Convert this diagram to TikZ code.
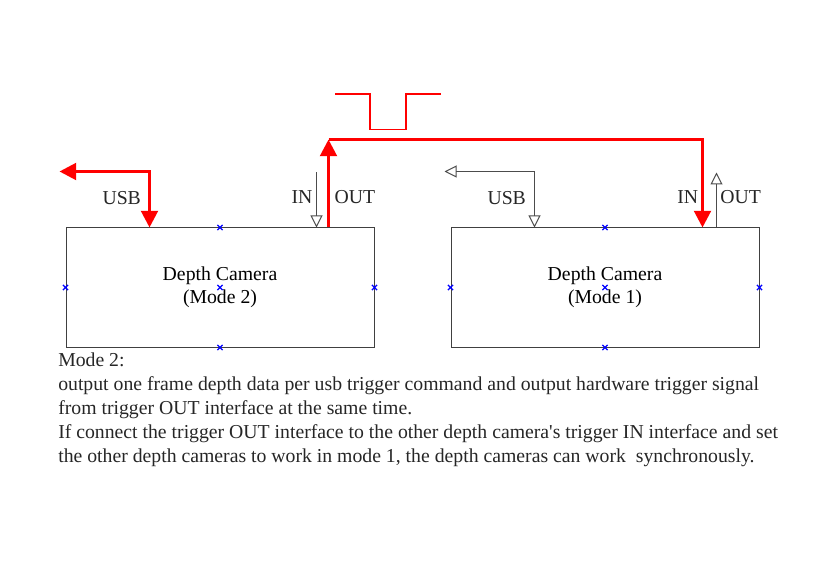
\documentclass[tikz,border=0pt]{standalone}
\usepackage{fontspec}
\setmainfont{Liberation Serif}[Ligatures=TeXOff]
\usetikzlibrary{positioning}
\usetikzlibrary{arrows.meta}
\usetikzlibrary{shapes.misc}

\begin{document}
\begin{tikzpicture}
          [
          x=0.75pt, y=-0.75pt,
          font=\fontsize{14.8}{17.5}\selectfont,
          Camera/.style={rectangle, draw=black!75, line width=0.75pt, minimum width=231pt, minimum height=89.25pt, align=center, inner sep=0pt},
          Handle/.style={cross out, draw=blue, line width=0.9pt, minimum size=3pt, inner sep=0pt},
          Signal/.style={draw=red, line width=2.25pt, -{Triangle[width=12.5pt, length=12.5pt]}},
          Plain/.style={draw=black!70, line width=0.75pt, -{Triangle[open, width=9pt, length=9pt]}},
          Label/.style={text=black!85, inner sep=0pt},
          Note/.style={text=black!85, anchor=base west, inner sep=0pt},
          ]
          \useasboundingbox (0,0) rectangle (836,588);

          % Nodes
          \node[Camera] (CamL) at (220,287.5) {Depth Camera\\(Mode 2)};
          \node[Camera] (CamR) at (605,287.5) {Depth Camera\\(Mode 1)};

          \foreach \a in {north, south, east, west, center}
          {
            \node[Handle] (hL\a) at (CamL.\a) {};
            \node[Handle] (hR\a) at (CamR.\a) {};
          }

          % Ports
          \coordinate (UsbL) at ([xshift=63pt]CamL.north west);
          \coordinate (InL) at ([xshift=188.25pt]CamL.north west);
          \coordinate (OutL) at ([xshift=197.25pt]CamL.north west);
          \coordinate (UsbR) at ([xshift=63pt]CamR.north west);
          \coordinate (InR) at ([xshift=189pt]CamR.north west);
          \coordinate (OutR) at ([xshift=199.5pt]CamR.north west);

          \coordinate (UsbLend) at ([xshift=-67.5pt, yshift=42pt]UsbL);
          \coordinate (UsbRend) at ([xshift=-67.5pt, yshift=42pt]UsbR);
          \coordinate (InLend) at ([yshift=41.25pt]InL);
          \coordinate (OutRend) at ([yshift=41.25pt]OutR);
          \coordinate (Bend) at ([yshift=66pt]OutL);

          % Labels
          \node[Label] (UsbLtext) at (121.7,198) {USB};
          \node[Label] (InLtext) at (302,197) {IN};
          \node[Label] (OutLtext) at (355,197) {OUT};
          \node[Label] (UsbRtext) at (506.7,198) {USB};
          \node[Label] (InRtext) at (687.7,197) {IN};
          \node[Label] (OutRtext) at (740.7,197) {OUT};

          % Lines
          \path [Plain] (InLend) -- (InL);
          \path [Plain, {Triangle[open, width=9pt, length=9pt]}-{Triangle[open, width=9pt, length=9pt]}] (UsbRend) -| (UsbR);
          \path [Plain] (OutR) -- (OutRend);
          \path [Signal, {Triangle[width=12.5pt, length=12.5pt]}-{Triangle[width=12.5pt, length=12.5pt]}] (UsbLend) -| (UsbL);
          \path [Signal] (OutL) -- (Bend);
          \path [Signal] (Bend) -| (InR);

          % Pulse
          \draw [red, line width=0.9pt] (335,94) -- (370,94) -- (370,129.5) -- (406,129.5) -- (406,94) -- (441,94);

          % Notes
          \node[Note] (Note1) at (58,366) {Mode 2:};
          \node[Note] (Note2) at (58,390) {output one frame depth data per usb trigger command and output hardware trigger signal};
          \node[Note] (Note3) at (58,414) {from trigger OUT interface at the same time.};
          \node[Note] (Note4) at (58,438) {If connect the trigger OUT interface to the other depth camera's trigger IN interface and set};
          \node[Note] (Note5) at (58,462) {the other depth cameras to work in mode 1, the depth cameras can work\ \ synchronously.};

\end{tikzpicture}
\end{document}
